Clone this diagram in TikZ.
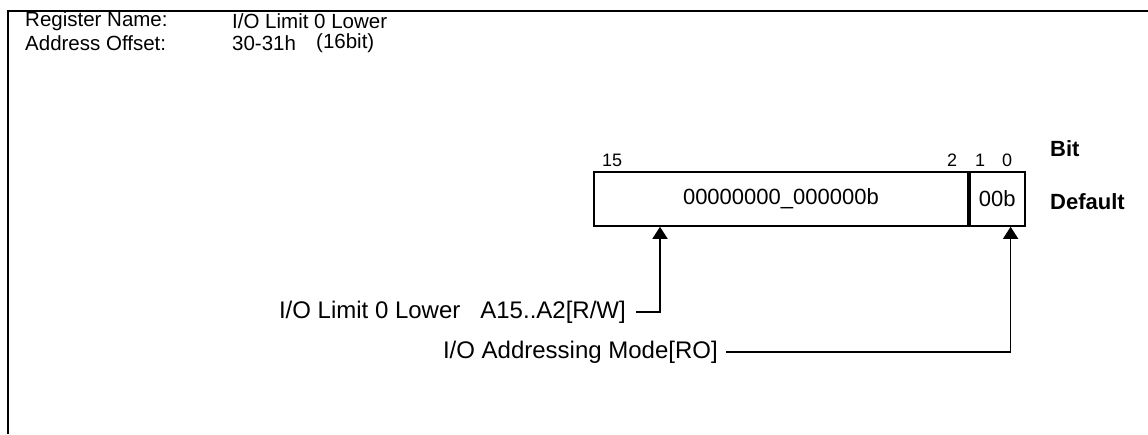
\documentclass[tikz,border=0pt]{standalone}
\usepackage{fontspec}
\setmainfont{Liberation Sans}
\usetikzlibrary{arrows.meta,positioning}

\begin{document}
\begin{tikzpicture}[x=1pt,y=-1pt,
  txt/.style={inner sep=0pt,anchor=west,font=\fontsize{20.5}{22}\selectfont},
  lbl/.style={inner sep=0pt,anchor=east,font=\fontsize{24}{26}\selectfont},
  bitno/.style={inner sep=0pt,anchor=base,font=\fontsize{18}{20}\selectfont},
  hdr/.style={inner sep=0pt,anchor=west,font=\fontsize{22}{24}\selectfont\bfseries},
  fld/.style={draw,line width=1.8pt,minimum height=54pt,inner sep=0pt,font=\fontsize{22}{24}\selectfont},
  ptr/.style={line width=1.5pt,-{Triangle[width=15pt,length=12pt]}}]
  \useasboundingbox (0,0) rectangle (1148,434);
  \draw[line width=1.8pt] (8,434) -- (8,11) -- (1148,11);
  \node[txt] (rn) at (25,21) {Register Name:};
  \node[txt] (rv) at (232,21) {I/O Limit 0 Lower};
  \node[txt] (an) at (25,43) {Address Offset:};
  \node[txt] (av) at (232,43) {30-31h};
  \node[txt] (aw) at (316,43) {(16bit)};
  \node[fld,minimum width=374pt,anchor=north west] (hi) at (593,171) {00000000\_000000b};
  \node[fld,minimum width=55pt,anchor=west] (lo) at (hi.east) {00b};
  \draw[line width=2.6pt] (hi.north east) -- (hi.south east);
  \node[bitno,anchor=base west] (b15) at (602,166) {15};
  \node[bitno] (b2) at (952,166) {2};
  \node[bitno] (b1) at (980,166) {1};
  \node[bitno] (b0) at (1007,166) {0};
  \node[hdr] (bit) at (1050,149) {Bit};
  \node[hdr] (def) at (1050,202) {Default};
  \coordinate (t1) at ([xshift=67pt]hi.south west);
  \coordinate (t0) at ([xshift=-15pt]lo.south east);
  \node[lbl] (l1) at (626,312) {I/O Limit 0 Lower\hspace{20pt}A15..A2[R/W]};
  \node[lbl] (l0) at (718,352) {I/O Addressing Mode[RO]};
  \draw[ptr] ([xshift=10pt]l1.east) -| (t1);
  \draw[ptr] ([xshift=8pt]l0.east) -| (t0);
\end{tikzpicture}
\end{document}
